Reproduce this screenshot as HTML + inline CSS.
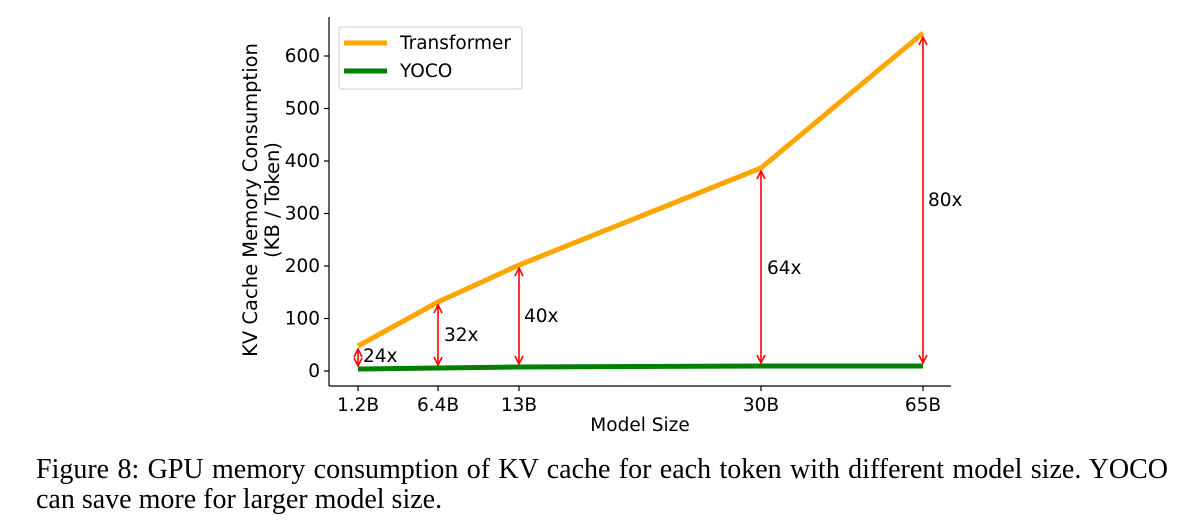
<!DOCTYPE html>
<html><head><style>
body{margin:0;background:#fff;width:1193px;height:529px;overflow:hidden}
.cap{position:absolute;left:36px;font-family:"Liberation Serif",serif;font-size:28px;line-height:30px;color:#000;white-space:nowrap}
.l1{top:455px;width:1132px;text-align:justify;text-align-last:justify;white-space:normal}
.l2{top:485px}
</style></head><body>
<svg width="1193" height="529" style="position:absolute;left:0;top:0" font-family="DejaVu Sans, Liberation Sans, sans-serif">
<defs>
<marker id="ah" markerWidth="10" markerHeight="10" refX="9" refY="5" orient="auto-start-reverse" markerUnits="userSpaceOnUse">
<path d="M1,1 L9,5 L1,9" fill="none" stroke="#f00" stroke-width="1.6"/>
</marker>
</defs>
<g stroke="#000" stroke-width="1.2" fill="none">
<line x1="329" y1="17" x2="329" y2="386"/>
<line x1="329" y1="386" x2="951" y2="386"/>
</g>
<g stroke="#000" stroke-width="1.2">
<line x1="324" y1="371" x2="329" y2="371"/><line x1="324" y1="318.5" x2="329" y2="318.5"/><line x1="324" y1="266" x2="329" y2="266"/><line x1="324" y1="213.5" x2="329" y2="213.5"/><line x1="324" y1="161" x2="329" y2="161"/><line x1="324" y1="108.5" x2="329" y2="108.5"/><line x1="324" y1="56" x2="329" y2="56"/>
<line x1="358" y1="386" x2="358" y2="391"/><line x1="438" y1="386" x2="438" y2="391"/><line x1="519" y1="386" x2="519" y2="391"/><line x1="761" y1="386" x2="761" y2="391"/><line x1="923" y1="386" x2="923" y2="391"/>
</g>
<g font-size="18.5" fill="#000" text-anchor="end">
<text x="320" y="377">0</text><text x="320" y="324.5">100</text><text x="320" y="272">200</text><text x="320" y="219.5">300</text><text x="320" y="167">400</text><text x="320" y="114.5">500</text><text x="320" y="62">600</text>
</g>
<g font-size="18.5" fill="#000" text-anchor="middle">
<text x="358" y="411">1.2B</text><text x="438" y="411">6.4B</text><text x="519" y="411">13B</text><text x="761" y="411">30B</text><text x="923" y="411">65B</text>
<text x="640" y="431">Model Size</text>
</g>
<g font-size="19.5" fill="#000" text-anchor="middle">
<text transform="translate(257,200) rotate(-90)">KV Cache Memory Consumption</text>
<text transform="translate(279,200) rotate(-90)">(KB / Token)</text>
</g>
<polyline points="358,369 438,368 519,367 761,366 923,366" fill="none" stroke="#008000" stroke-width="5"/>
<polyline points="358,346 438,302 519,265 761,168 923,33" fill="none" stroke="#ffa500" stroke-width="5"/>
<g stroke="#f00" stroke-width="1.6" marker-start="url(#ah)" marker-end="url(#ah)">
<line x1="358" y1="349" x2="358" y2="366"/>
<line x1="438" y1="305" x2="438" y2="365"/>
<line x1="519" y1="268" x2="519" y2="364"/>
<line x1="761" y1="171" x2="761" y2="363"/>
<line x1="923" y1="37" x2="923" y2="363"/>
</g>
<g font-size="18.5" fill="#000">
<text x="363" y="362">24x</text><text x="444" y="341">32x</text><text x="524" y="322">40x</text><text x="767" y="274">64x</text><text x="928" y="206">80x</text>
</g>
<rect x="339" y="27" width="183" height="62" rx="3" fill="#fff" stroke="#ccc" stroke-width="1"/>
<line x1="344" y1="43" x2="387" y2="43" stroke="#ffa500" stroke-width="5"/>
<line x1="344" y1="71" x2="387" y2="71" stroke="#008000" stroke-width="5"/>
<text x="400" y="49" font-size="18.5">Transformer</text>
<text x="400" y="77" font-size="18.5">YOCO</text>
</svg>
<div class="cap l1">Figure 8: GPU memory consumption of KV cache for each token with different model size. YOCO</div>
<div class="cap l2">can save more for larger model size.</div>
</body></html>
